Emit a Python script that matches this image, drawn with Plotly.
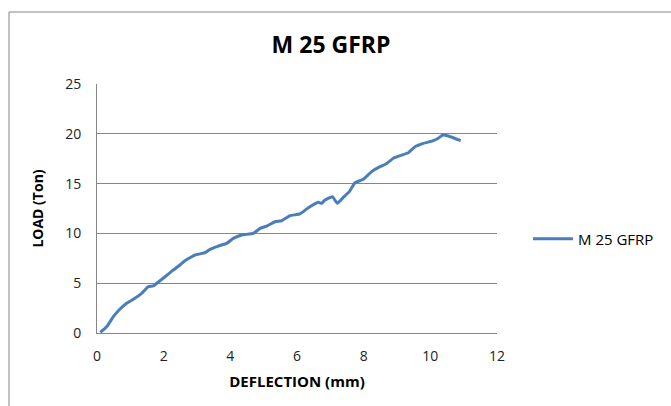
import plotly.graph_objects as go

series_name = "M 25 GFRP"
deflection = [0.1, 0.29, 0.49, 0.64, 0.89, 1.09, 1.34, 1.54, 1.69, 1.89, 2.04, 2.29, 2.49, 2.64,
              2.94, 3.24, 3.39, 3.64, 3.89, 4.09, 4.34, 4.69, 4.89, 5.09, 5.34, 5.54, 5.79, 6.09,
              6.34, 6.64, 6.74, 6.84, 7.06, 7.21, 7.39, 7.57, 7.74, 7.99, 8.24, 8.49, 8.67, 8.89,
              9.09, 9.34, 9.54, 9.79, 10.09, 10.24, 10.37, 10.54, 10.91]
load = [0.07, 0.63, 1.64, 2.24, 2.98, 3.38, 3.98, 4.65, 4.72, 5.25, 5.65, 6.33, 6.83, 7.26,
        7.83, 8.06, 8.40, 8.73, 9.0, 9.50, 9.84, 10.0, 10.5, 10.74, 11.17, 11.27, 11.78, 11.95,
        12.57, 13.12, 13.02, 13.35, 13.69, 13.02, 13.62, 14.19, 15.09, 15.43, 16.2, 16.7, 16.97, 17.54,
        17.80, 18.10, 18.70, 19.04, 19.31, 19.55, 19.88, 19.78, 19.31]

x_ticks = [0, 2, 4, 6, 8, 10, 12]
y_ticks = [0, 5, 10, 15, 20, 25]

FONT = "Open Sans"
fig = go.Figure()
fig.add_trace(go.Scatter(
    x=deflection, y=load, mode="lines", name=series_name,
    line=dict(color="#4A7EBB", width=3, shape="spline", smoothing=0.3),
))

fig.update_layout(
    width=671, height=406,
    margin=dict(l=97, r=174, t=84, b=73, autoexpand=False),
    paper_bgcolor="white", plot_bgcolor="white",
    font=dict(family=FONT, color="#000000"),
    title=dict(text="<b>M 25 GFRP</b>", x=(331 / 671), xanchor="center",
               y=1 - 45 / 406, yanchor="middle", font=dict(size=23, family=FONT)),
    showlegend=True,
    legend=dict(x=(528 - 97) / 400, y=(333 - 239) / 249, xanchor="left", yanchor="middle",
                font=dict(size=15, family=FONT), bgcolor="rgba(0,0,0,0)",
                itemwidth=40),
    xaxis=dict(range=[0, 12], tickvals=x_ticks, showgrid=False, zeroline=False,
               showline=True, linecolor="#868686", linewidth=1,
               tickfont=dict(size=14, color="#222"), ticks="", ticklabelstandoff=10,
               title=dict(text="<b>DEFLECTION (mm)</b>", font=dict(size=15), standoff=12)),
    yaxis=dict(range=[0, 25], tickvals=y_ticks, showgrid=True, gridcolor="#868686", gridwidth=1,
               zeroline=False, showline=True, linecolor="#868686", linewidth=1,
               tickfont=dict(size=14, color="#222"), ticks="", ticklabelstandoff=12,
               title=dict(text="<b>LOAD (Ton)</b>", font=dict(size=14), standoff=18)),
)

fig.add_shape(type="rect", xref="paper", yref="paper",
              x0=(9 - 97) / 400, x1=(690 - 97) / 400,
              y0=(333 - 430) / 249, y1=(333 - 12) / 249,
              line=dict(color="#868686", width=1), fillcolor="rgba(0,0,0,0)", layer="below")

fig.write_html("out.html", config={"displayModeBar": False},
               post_script="document.body.style.margin='0';document.body.style.padding='0';")
